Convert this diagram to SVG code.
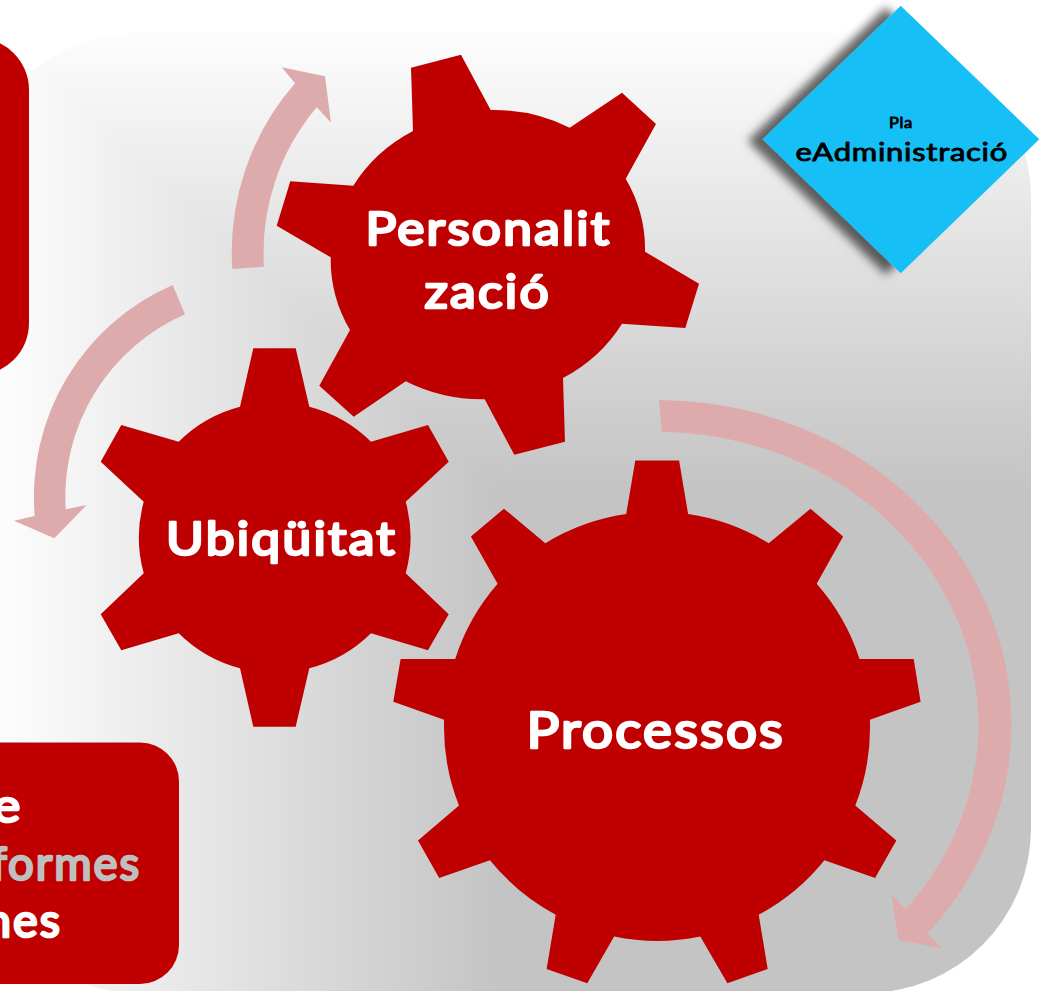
<svg xmlns="http://www.w3.org/2000/svg" width="1043" height="991" viewBox="0 0 1043 991">
<style>
.gear{fill:#bf0000}
.box{fill:#c00000}
.arrow{fill:#deabad}
.t{font-family:"Lato","Noto Sans",sans-serif;font-weight:400;stroke-linejoin:round;stroke-linecap:round;paint-order:stroke}
.w{fill:#fff;stroke:#fff;stroke-width:2.6;font-size:46px;letter-spacing:2px}
.g{fill:#bfbfbf;stroke:#bfbfbf}
.k{fill:#000;stroke:#000;stroke-width:.9;letter-spacing:.6px}
</style>
<defs>
<linearGradient id="gx" gradientUnits="userSpaceOnUse" x1="-18" y1="0" x2="500" y2="0"><stop offset="0" stop-color="#fff"/><stop offset="1" stop-color="#c4c4c4"/></linearGradient>
<linearGradient id="gy" gradientUnits="userSpaceOnUse" x1="0" y1="33" x2="0" y2="490"><stop offset="0" stop-color="#fdfdfd"/><stop offset="1" stop-color="#c4c4c4"/></linearGradient>
<clipPath id="bgclip"><rect x="-27" y="33" width="1058" height="960" rx="165" ry="165"/></clipPath>
<filter id="sh" x="-20%" y="-20%" width="140%" height="140%"><feDropShadow dx="-15" dy="1.5" stdDeviation="5" flood-color="#000" flood-opacity=".6"/></filter>
</defs>
<rect width="1043" height="991" fill="#fff"/>
<g id="background" clip-path="url(#bgclip)" style="isolation:isolate">
<rect x="-27" y="33" width="1058" height="960" fill="#c4c4c4"/>
<rect x="-27" y="33" width="1058" height="960" fill="url(#gx)" style="mix-blend-mode:lighten"/>
<rect x="-27" y="33" width="1058" height="960" fill="url(#gy)" style="mix-blend-mode:lighten"/>
</g>
<g id="box-left"><rect class="box" x="-100" y="38" width="129" height="337" rx="52" ry="52"/></g>
<g id="box-bottom">
<rect class="box" x="-60" y="742.5" width="239" height="241.5" rx="39" ry="39"/>
<text class="t w" x="-7" y="822" textLength="29.5" lengthAdjust="spacingAndGlyphs">e</text>
<text class="t w g" x="-9" y="880" textLength="150" lengthAdjust="spacingAndGlyphs">formes</text>
<text class="t w" x="-15" y="937" textLength="77" lengthAdjust="spacingAndGlyphs">nes</text>
</g>
<g id="connectors">
<path class="arrow" d="M232.3,269 A257,257 0 0 1 295,83.3 L281.7,67.3 L325,76.3 L331,122.7 L316.7,107.3 A225,225 0 0 0 264,266.7 Z"/>
<path class="arrow" d="M172.7,285 A231,231 0 0 0 34.7,516 L14,520.7 L54.3,538.3 L86.7,505 L65.7,509.3 A199.5,199.5 0 0 1 185,314.3 Z"/>
<path class="arrow" d="M659,400 A354,324 0 0 1 927.7,933.3 L941.7,948.3 L898.3,940 L891.7,895 L906,909 A322,292.5 0 0 0 661.7,431.7 Z"/>
</g>
<g id="gear-personalitzacio">
<path class="gear" d="M411,67.7 L461,54.7 L490.7,110 A160,148 0 0 1 569.7,127.7 L622,92.7 L656,124 L625.7,178.7 A160,148 0 0 1 645,251.7 L699,283.7 L685.3,328 L622,323.7 A160,148 0 0 1 563,378 L565,441.7 L514.3,454.7 L484.7,399.3 A160,148 0 0 1 405.7,381.3 L353.7,416.7 L319.3,385.7 L350,330 A160,148 0 0 1 330.7,257.3 L276.7,225.7 L290.3,181.3 L353.3,185.7 A160,148 0 0 1 413,131 Z"/>
<text class="t w" x="365.5" y="244.5" textLength="246" lengthAdjust="spacingAndGlyphs">Personalit</text>
<text class="t w" x="424.5" y="308" textLength="126.5" lengthAdjust="spacingAndGlyphs">zació</text>
</g>
<g id="gear-ubiquitat">
<path class="gear" d="M253.3,348.3 L295.7,348.3 L309.3,406.7 A135.5,135.5 0 0 1 371,441.7 L428,425 L448.7,461.7 L405.7,501.7 A135.5,135.5 0 0 1 405.7,573.3 L448.7,614.3 L428,650.3 L371,633.3 A135.5,135.5 0 0 1 309.3,668.3 L295.7,726.7 L253.3,726.7 L240,668.3 A135.5,135.5 0 0 1 178.7,633.3 L121.3,650.3 L100.7,614.3 L143.7,573.3 A135.5,135.5 0 0 1 143.7,501.7 L100.7,461.7 L121.3,425 L178.7,441.7 A135.5,135.5 0 0 1 240,406.7 Z"/>
<text class="t w" x="166" y="555" textLength="231" lengthAdjust="spacingAndGlyphs">Ubiqüitat</text>
</g>
<g id="gear-processos">
<path class="gear" d="M635.3,460.4 L679.1,460.4 L688.1,514 A214,214 0 0 1 768.7,543.2 L810.5,508.7 L843.1,536.5 L816.7,583.8 A214,214 0 0 1 859.5,658.9 L913.7,658.9 L920.6,701.7 L869.9,719.7 A214,214 0 0 1 855.3,805.6 L896.3,840.4 L875.1,877.9 L824.4,860.2 A214,214 0 0 1 758.7,914.7 L767.7,969 L727.4,983.2 L700.3,936.6 A214,214 0 0 1 614.1,936.6 L587.3,983.2 L546.6,969 L555.7,914.7 A214,214 0 0 1 490,860.2 L439.2,877.9 L418,840.4 L459,805.6 A214,214 0 0 1 444.1,719.7 L393.3,701.7 L400.6,658.9 L455.2,658.9 A214,214 0 0 1 497.6,583.8 L470.9,536.5 L503.9,508.7 L545.3,543.2 A214,214 0 0 1 626.2,514 Z"/>
<text class="t w" x="526.5" y="747.5" textLength="258.5" lengthAdjust="spacingAndGlyphs" style="font-size:50px">Processos</text>
</g>
<g id="plan-diamond">
<polygon points="900.7,5.7 1039.3,139.3 900.7,273.3 762.7,139.3" fill="#16c0f6" filter="url(#sh)"/>
<text class="t k" x="889" y="128" textLength="24" lengthAdjust="spacingAndGlyphs" style="font-size:15px;stroke-width:.8">Pla</text>
<text class="t k" x="795.5" y="161" textLength="212.5" lengthAdjust="spacingAndGlyphs" style="font-size:25.5px">eAdministració</text>
</g>
</svg>
